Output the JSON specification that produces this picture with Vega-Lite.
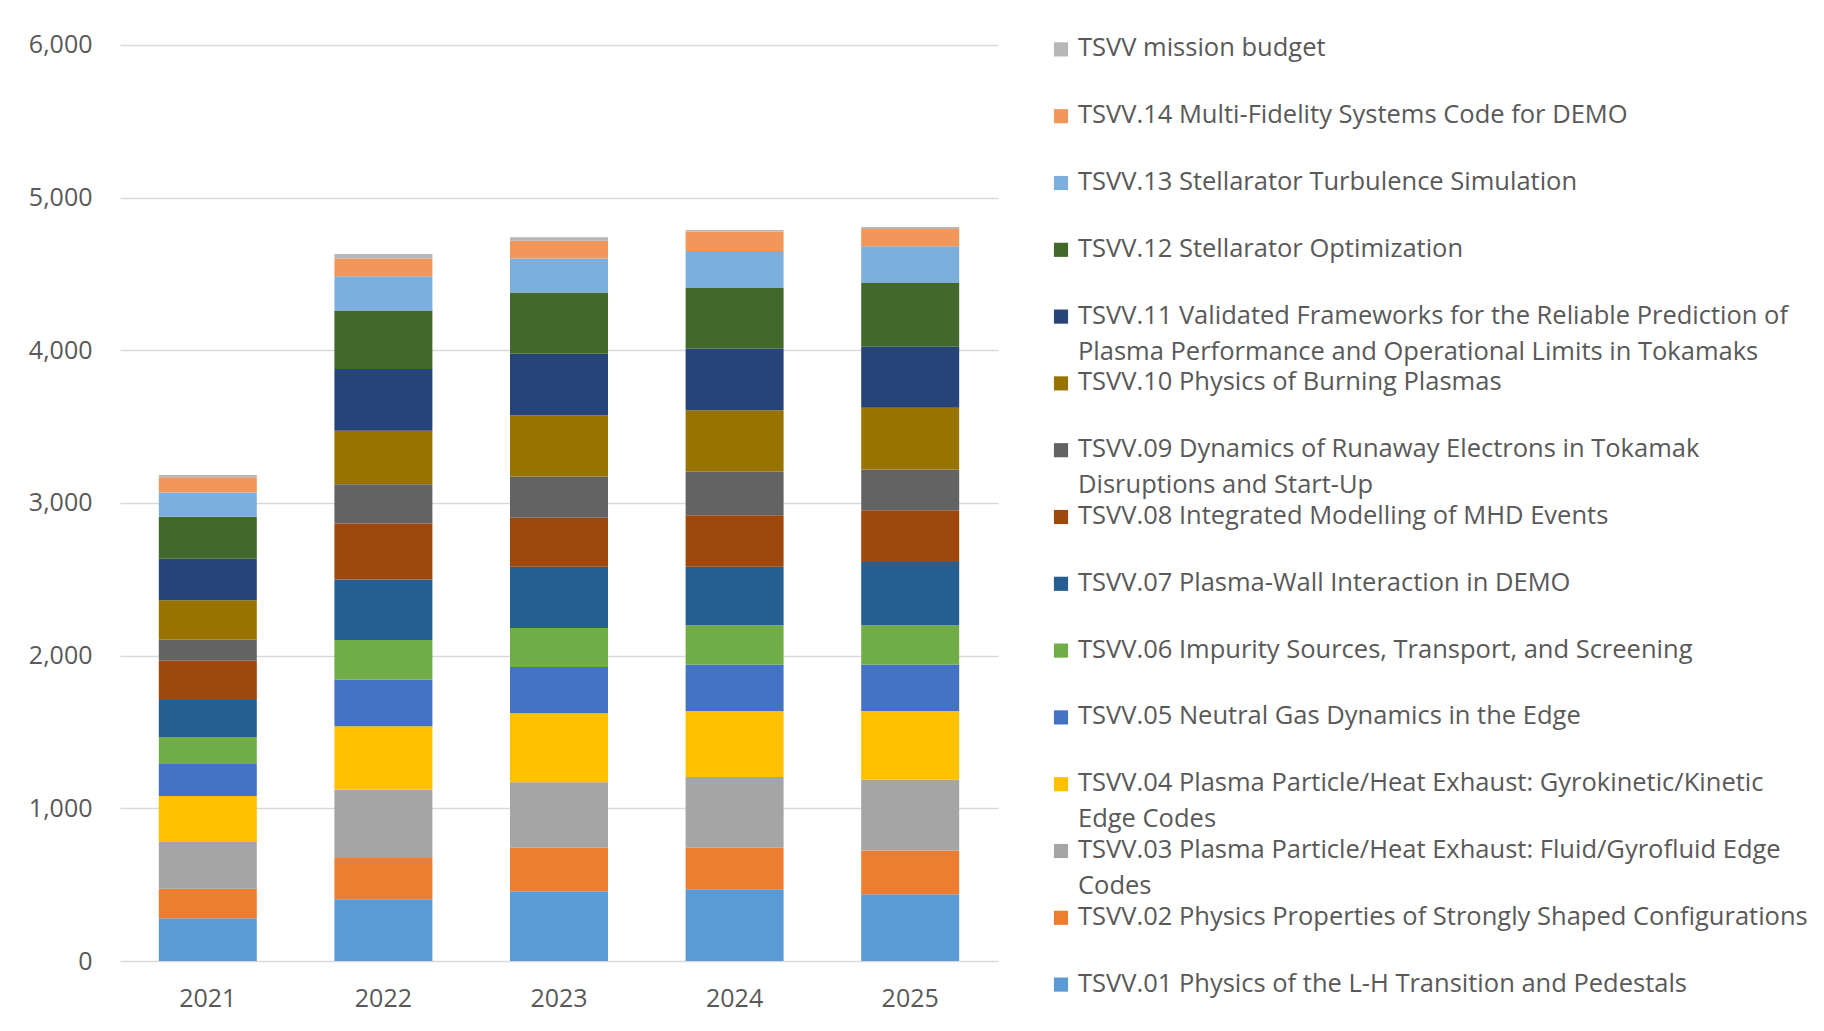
{
  "$schema": "https://vega.github.io/schema/vega-lite/v6.json",
  "padding": {"left": 28, "top": 14, "right": 0, "bottom": 5},
  "background": "white",
  "config": {
    "view": {"stroke": null},
    "font": "Open Sans",
    "axis": {"labelFont": "Open Sans", "labelFontSize": 25, "labelColor": "#595959"}
  },
  "spacing": 63,
  "bounds": "flush",
  "datasets": {
    "bars": [
      {"y": "2021", "c": "01", "v": 280}, {"y": "2021", "c": "02", "v": 194}, {"y": "2021", "c": "03", "v": 305}, {"y": "2021", "c": "04", "v": 301}, {"y": "2021", "c": "05", "v": 211}, {"y": "2021", "c": "06", "v": 177}, {"y": "2021", "c": "07", "v": 241}, {"y": "2021", "c": "08", "v": 258}, {"y": "2021", "c": "09", "v": 138}, {"y": "2021", "c": "10", "v": 258}, {"y": "2021", "c": "11", "v": 272}, {"y": "2021", "c": "12", "v": 275}, {"y": "2021", "c": "13", "v": 159}, {"y": "2021", "c": "14", "v": 99}, {"y": "2021", "c": "M", "v": 15},
      {"y": "2022", "c": "01", "v": 404}, {"y": "2022", "c": "02", "v": 270}, {"y": "2022", "c": "03", "v": 450}, {"y": "2022", "c": "04", "v": 414}, {"y": "2022", "c": "05", "v": 304}, {"y": "2022", "c": "06", "v": 260}, {"y": "2022", "c": "07", "v": 397}, {"y": "2022", "c": "08", "v": 367}, {"y": "2022", "c": "09", "v": 257}, {"y": "2022", "c": "10", "v": 350}, {"y": "2022", "c": "11", "v": 404}, {"y": "2022", "c": "12", "v": 384}, {"y": "2022", "c": "13", "v": 224}, {"y": "2022", "c": "14", "v": 116}, {"y": "2022", "c": "M", "v": 30},
      {"y": "2023", "c": "01", "v": 454}, {"y": "2023", "c": "02", "v": 287}, {"y": "2023", "c": "03", "v": 430}, {"y": "2023", "c": "04", "v": 451}, {"y": "2023", "c": "05", "v": 303}, {"y": "2023", "c": "06", "v": 257}, {"y": "2023", "c": "07", "v": 401}, {"y": "2023", "c": "08", "v": 320}, {"y": "2023", "c": "09", "v": 270}, {"y": "2023", "c": "10", "v": 401}, {"y": "2023", "c": "11", "v": 403}, {"y": "2023", "c": "12", "v": 401}, {"y": "2023", "c": "13", "v": 223}, {"y": "2023", "c": "14", "v": 117}, {"y": "2023", "c": "M", "v": 23},
      {"y": "2024", "c": "01", "v": 470}, {"y": "2024", "c": "02", "v": 271}, {"y": "2024", "c": "03", "v": 464}, {"y": "2024", "c": "04", "v": 433}, {"y": "2024", "c": "05", "v": 304}, {"y": "2024", "c": "06", "v": 257}, {"y": "2024", "c": "07", "v": 384}, {"y": "2024", "c": "08", "v": 337}, {"y": "2024", "c": "09", "v": 287}, {"y": "2024", "c": "10", "v": 400}, {"y": "2024", "c": "11", "v": 404}, {"y": "2024", "c": "12", "v": 397}, {"y": "2024", "c": "13", "v": 243}, {"y": "2024", "c": "14", "v": 127}, {"y": "2024", "c": "M", "v": 10},
      {"y": "2025", "c": "01", "v": 437}, {"y": "2025", "c": "02", "v": 287}, {"y": "2025", "c": "03", "v": 464}, {"y": "2025", "c": "04", "v": 450}, {"y": "2025", "c": "05", "v": 304}, {"y": "2025", "c": "06", "v": 257}, {"y": "2025", "c": "07", "v": 414}, {"y": "2025", "c": "08", "v": 340}, {"y": "2025", "c": "09", "v": 267}, {"y": "2025", "c": "10", "v": 404}, {"y": "2025", "c": "11", "v": 400}, {"y": "2025", "c": "12", "v": 417}, {"y": "2025", "c": "13", "v": 240}, {"y": "2025", "c": "14", "v": 114}, {"y": "2025", "c": "M", "v": 13}
    ],
    "legend": [
      {"c": "M", "label": "TSVV mission budget"},
      {"c": "14", "label": "TSVV.14 Multi-Fidelity Systems Code for DEMO"},
      {"c": "13", "label": "TSVV.13 Stellarator Turbulence Simulation"},
      {"c": "12", "label": "TSVV.12 Stellarator Optimization"},
      {"c": "11", "label": "TSVV.11 Validated Frameworks for the Reliable Prediction of\nPlasma Performance and Operational Limits in Tokamaks"},
      {"c": "10", "label": "TSVV.10 Physics of Burning Plasmas"},
      {"c": "09", "label": "TSVV.09 Dynamics of Runaway Electrons in Tokamak\nDisruptions and Start-Up"},
      {"c": "08", "label": "TSVV.08 Integrated Modelling of MHD Events"},
      {"c": "07", "label": "TSVV.07 Plasma-Wall Interaction in DEMO"},
      {"c": "06", "label": "TSVV.06 Impurity Sources, Transport, and Screening"},
      {"c": "05", "label": "TSVV.05 Neutral Gas Dynamics in the Edge"},
      {"c": "04", "label": "TSVV.04 Plasma Particle/Heat Exhaust: Gyrokinetic/Kinetic\nEdge Codes"},
      {"c": "03", "label": "TSVV.03 Plasma Particle/Heat Exhaust: Fluid/Gyrofluid Edge\nCodes"},
      {"c": "02", "label": "TSVV.02 Physics Properties of Strongly Shaped Configurations"},
      {"c": "01", "label": "TSVV.01 Physics of the L-H Transition and Pedestals"}
    ]
  },
  "hconcat": [
    {
      "width": 878,
      "height": 947,
      "data": {"name": "bars"},
      "mark": {"type": "bar"},
      "encoding": {
        "x": {"field": "y", "type": "ordinal", "scale": {"paddingInner": 0.442, "paddingOuter": 0.221}, "axis": {"title": null, "labelAngle": 0, "ticks": false, "domain": false, "labelPadding": 25}},
        "y": {"field": "v", "type": "quantitative", "stack": "zero", "scale": {"domain": [0, 6203], "nice": false}, "axis": {"title": null, "values": [0, 1000, 2000, 3000, 4000, 5000, 6000], "format": ",.0f", "grid": true, "gridColor": "#d9d9d9", "gridWidth": 1.3, "ticks": false, "domain": false, "labelPadding": 28}},
        "color": {"field": "c", "type": "nominal", "legend": null, "scale": {"domain": ["01", "02", "03", "04", "05", "06", "07", "08", "09", "10", "11", "12", "13", "14", "M"], "range": ["#5B9BD5", "#ED7D31", "#A5A5A5", "#FFC000", "#4472C4", "#70AD47", "#255E91", "#9E480E", "#636363", "#997300", "#264478", "#43682B", "#7CAFDD", "#F1975A", "#B7B7B7"]}},
        "order": {"field": "c", "sort": "ascending"}
      }
    },
    {
      "width": 758,
      "height": 1002,
      "data": {"name": "legend"},
      "encoding": {
        "x": {"datum": 0, "type": "quantitative", "scale": {"domain": [0, 1]}, "axis": null},
        "y": {"field": "c", "type": "nominal", "scale": {"type": "point", "padding": 0.5, "domain": ["M", "14", "13", "12", "11", "10", "09", "08", "07", "06", "05", "04", "03", "02", "01"]}, "axis": null}
      },
      "layer": [
        {
          "mark": {"type": "square", "size": 200, "opacity": 1, "filled": true, "yOffset": 2},
          "encoding": {"color": {"field": "c", "type": "nominal", "legend": null}}
        },
        {
          "mark": {"type": "text", "align": "left", "baseline": "alphabetic", "dx": 17, "dy": 9, "fontSize": 25.5, "lineBreak": "\n", "lineHeight": 36, "color": "#595959"},
          "encoding": {"text": {"field": "label", "type": "nominal"}}
        }
      ]
    }
  ]
}
